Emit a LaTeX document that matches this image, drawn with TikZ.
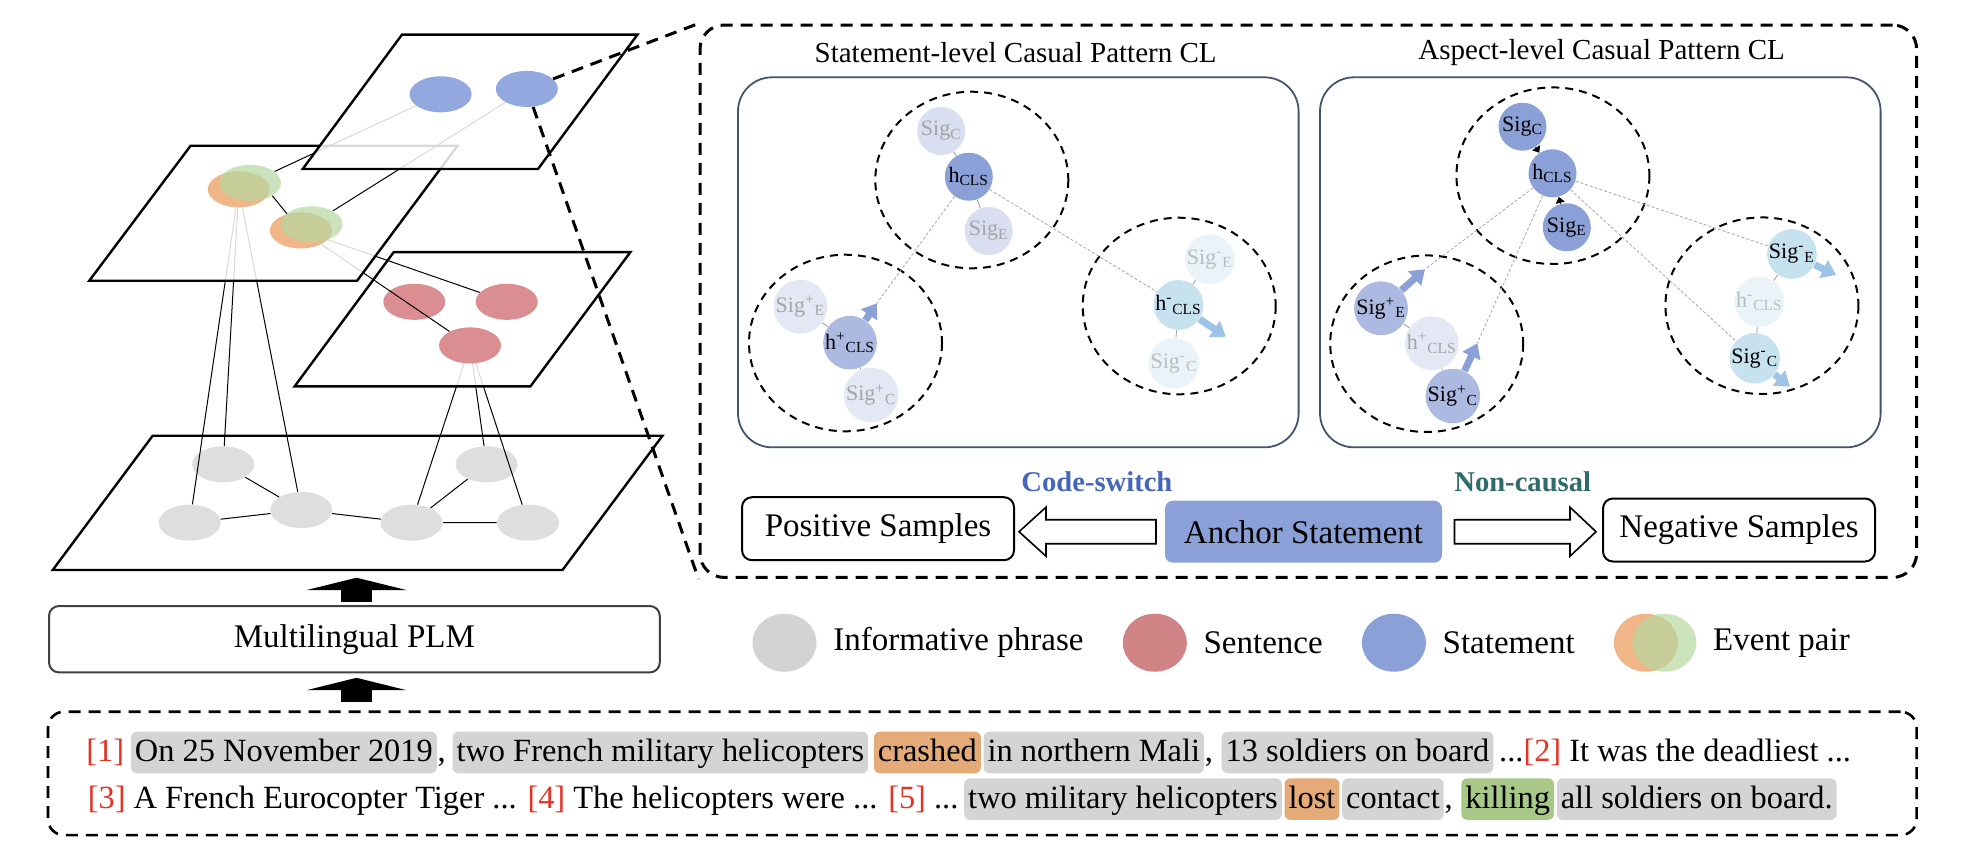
\documentclass[tikz,border=0pt]{standalone}
\usepackage{fontspec}
\setmainfont{Liberation Serif}
\usetikzlibrary{positioning,calc,arrows.meta,shapes.geometric}
\tikzset{>=stealth}

\definecolor{stblue}{RGB}{138,160,214}
\definecolor{mdblue}{RGB}{172,186,226}
\definecolor{ltblue}{RGB}{217,223,241}
\definecolor{xlblue}{RGB}{228,232,245}
\definecolor{cyblue}{RGB}{198,226,238}
\definecolor{ltcyan}{RGB}{233,243,248}
\definecolor{ngblue}{RGB}{157,195,230}
\definecolor{fadetxt}{RGB}{165,165,165}
\definecolor{fadetxt2}{RGB}{185,190,195}
\definecolor{slate}{RGB}{68,84,106}
\definecolor{phgray}{RGB}{222,222,222}
\definecolor{sred}{RGB}{219,142,146}
\definecolor{gblue}{RGB}{146,168,222}
\definecolor{evorange}{RGB}{240,182,135}
\definecolor{evgreen}{RGB}{182,216,160}
\definecolor{hlgray}{RGB}{212,212,212}
\definecolor{hlorange}{RGB}{228,170,120}
\definecolor{hlgreen}{RGB}{168,200,135}
\definecolor{numred}{RGB}{226,51,36}
\definecolor{csblue}{RGB}{68,102,187}
\definecolor{ncteal}{RGB}{47,107,107}
\definecolor{lgray}{RGB}{211,211,211}
\definecolor{lred}{RGB}{208,132,134}

\newcommand{\bodyfs}{\fontsize{16.5pt}{19pt}\selectfont}
\newcommand{\docfs}{\fontsize{16.2pt}{19pt}\selectfont}
\newcommand{\ttlfs}{\fontsize{14.5pt}{17pt}\selectfont}
\newcommand{\sigfs}{\fontsize{11pt}{13pt}\selectfont}

\tikzset{
  plane/.style={draw, line width=1.2pt, fill=white, fill opacity=0.85, line join=miter},
  ell/.style={ellipse, minimum width=31pt, minimum height=18pt, inner sep=0pt},
  edge/.style={line width=0.5pt},
  bigdash/.style={line width=1.5pt, dash pattern=on 6pt off 4pt},
  zoombox/.style={draw, bigdash, rounded corners=12pt, minimum width=608.3pt, minimum height=276.2pt},
  panel/.style={draw=slate, line width=0.9pt, rounded corners=17pt, minimum width=280.3pt, minimum height=185pt},
  grp/.style={line width=1pt, dash pattern=on 4pt off 3pt},
  sig/.style={circle, minimum size=24pt, inner sep=0pt, font=\sigfs},
  link/.style={draw=gray!80, line width=0.4pt},
  dotl/.style={draw=gray!70, line width=0.4pt, dash pattern=on 1.5pt off 1pt},
  posarr/.style={line width=3.5pt, draw=stblue, -{Triangle[width=9.5pt,length=7pt]}},
  negarr/.style={line width=3.5pt, draw=ngblue, -{Triangle[width=9.5pt,length=7pt]}},
  tinyarr/.style={line width=0.6pt, -{Triangle[width=4.5pt,length=3pt]}},
  samp/.style={draw, line width=1pt, rounded corners=5pt, minimum width=136pt, minimum height=31.5pt, font=\bodyfs},
  hollow/.style={draw, fill=white, line width=0.8pt, line join=miter},
  fat/.style={line width=15.5pt, -{Triangle[width=50pt,length=6.2pt]}},
  lgd/.style={ellipse, minimum width=32pt, minimum height=29pt, inner sep=0pt},
  lgt/.style={inner sep=0pt, font=\bodyfs},
  tx/.style={anchor=base west, inner sep=0pt, font=\docfs},
  hl/.style={anchor=base west, fill=hlgray, rounded corners=3pt, inner xsep=2pt, inner ysep=0pt,
    text height=15pt, text depth=5.8pt, font=\docfs},
}

\begin{document}
\begin{tikzpicture}[x=0.5pt,y=-0.5pt]
\useasboundingbox (0,0) rectangle (1962,864);

% layered graph
\coordinate (cp1) at (238.8,189.3);
\coordinate (cp2) at (300.9,230.4);
\coordinate (cr3) at (470,345.4);
\coordinate (cb1) at (440.6,94.3);
\coordinate (cb2) at (526.8,88.9);

\draw[plane, fill opacity=1] (152.7,435.7) -- (662.5,435.7) -- (562.5,570) -- (52.7,570) -- cycle;
\foreach \n/\x/\y in {g1/223.2/464.3, g2/486.6/464.3, g3/189.7/522.7, g4/301.3/510, g5/411.6/522.7, g6/528.1/522.7}
  \node[ell, fill=phgray] (\n) at (\x,\y) {};
\draw[edge] (g1) -- (g4) (g3) -- (g4) (g4) -- (g5) (g2) -- (g5) (g5) -- (g6);
\draw[edge] (cp1) -- (g3) (cp1) -- (g1) (cp1) -- (g4);
\draw[edge] (cr3) -- (g5) (cr3) -- (g2) (cr3) -- (g6);

\draw[plane] (393.75,252.1) -- (630.4,252.1) -- (530.4,386.4) -- (294.6,386.4) -- cycle;
\node[ell, fill=sred] (r1) at (414.3,301.8) {};
\node[ell, fill=sred] (r2) at (506.7,301.8) {};
\node[ell, fill=sred] (r3) at (cr3) {};
\draw[edge] (cp2) -- (r2) (cp2) -- (r3);

\draw[plane] (190.6,145.7) -- (457.6,145.7) -- (357.1,280.7) -- (89.3,280.7) -- cycle;
\node[ell, fill=evorange] (p1o) at (cp1) {};
\node[ell, fill=evgreen, fill opacity=0.7] (p1g) at (250,182.9) {};
\node[ell, fill=evorange] (p2o) at (cp2) {};
\node[ell, fill=evgreen, fill opacity=0.7] (p2g) at (311.6,224.3) {};
\draw[edge] (p1g.-30) -- (p2o.130);
\draw[edge] (cb1) -- (p1g) (cb2) -- (p2g);

\draw[plane] (402,34.6) -- (637.5,34.6) -- (538,169) -- (302.7,169) -- cycle;
\node[ell, fill=gblue] (b1) at (cb1) {};
\node[ell, fill=gblue] (b2) at (cb2) {};

% zoomed statement view
\node[zoombox] (zbox) at (1308.3,301.2) {};
\draw[bigdash] (b2) -- (zbox.north west) (b2) -- (zbox.south west);

\node[font=\ttlfs] (stt) at (1015.6,52.7) {Statement-level Casual Pattern CL};
\node[font=\ttlfs] (ast) at (1601.6,52.7) {Aspect-level Casual Pattern CL};
\node[panel] (stp) at (1018.3,262.3) {};
\node[panel] (asp) at (1600.3,262.3) {};

% statement-level
\draw[grp] (971.8,180) ellipse [x radius=96.5, y radius=88.3];
\draw[grp] (845.5,343) ellipse [x radius=96.5, y radius=88.3];
\draw[grp] (1179.2,306) ellipse [x radius=96.5, y radius=88.3];
\node[sig, fill=ltblue, text=fadetxt] (ssc) at (941.2,131) {Sig\textsubscript{C}};
\node[sig, fill=stblue] (shc) at (968.8,176.7) {h\textsubscript{CLS}};
\node[sig, fill=ltblue, text=fadetxt] (sse) at (988.7,231) {Sig\textsubscript{E}};
\node[sig, fill=xlblue, text=fadetxt] (spe) at (800.4,306.7) {Sig\textsuperscript{+}\textsubscript{E}};
\node[sig, fill=mdblue] (sph) at (850,342.7) {h\textsuperscript{+}\textsubscript{CLS}};
\node[sig, fill=xlblue, text=fadetxt] (spc) at (871.2,395) {Sig\textsuperscript{+}\textsubscript{C}};
\node[sig, fill=ltcyan, text=fadetxt2] (sne) at (1209.9,259.3) {Sig\textsuperscript{-}\textsubscript{E}};
\node[sig, fill=cyblue] (snh) at (1178.5,305) {h\textsuperscript{-}\textsubscript{CLS}};
\node[sig, fill=ltcyan, text=fadetxt2] (snc) at (1173.9,363.3) {Sig\textsuperscript{-}\textsubscript{C}};
\coordinate (spt) at (876.9,303.3);
\coordinate (snt) at (1225.9,336.7);
\draw[link] (ssc) -- (shc) (shc) -- (sse) (spe) -- (sph) (sph) -- (spc) (sne) -- (snh) (snh) -- (snc);
\draw[dotl] (shc) -- (spt);
\draw[dotl] (shc) -- (snh);
\draw[posarr] (sph) -- (spt);
\draw[negarr] (snh) -- (snt);

% aspect-level
\draw[grp] (1552.9,175.7) ellipse [x radius=96.5, y radius=88.3];
\draw[grp] (1426.7,343.7) ellipse [x radius=96.5, y radius=88.3];
\draw[grp] (1761.9,305.7) ellipse [x radius=96.5, y radius=88.3];
\node[sig, fill=stblue] (asc) at (1522.5,126.7) {Sig\textsubscript{C}};
\node[sig, fill=stblue] (ahc) at (1552.5,173.3) {h\textsubscript{CLS}};
\node[sig, fill=stblue] (ase) at (1566.8,227.3) {Sig\textsubscript{E}};
\node[sig, fill=mdblue] (ape) at (1381,308.3) {Sig\textsuperscript{+}\textsubscript{E}};
\node[sig, fill=xlblue, text=fadetxt] (aph) at (1431.7,343.3) {h\textsuperscript{+}\textsubscript{CLS}};
\node[sig, fill=mdblue] (apc) at (1452.8,396) {Sig\textsuperscript{+}\textsubscript{C}};
\node[sig, fill=cyblue] (ane) at (1791.9,254) {Sig\textsuperscript{-}\textsubscript{E}};
\node[sig, fill=ltcyan, text=fadetxt2] (anh) at (1759.3,301.7) {h\textsuperscript{-}\textsubscript{CLS}};
\node[sig, fill=cyblue] (anc) at (1754.7,358.3) {Sig\textsuperscript{-}\textsubscript{C}};
\coordinate (apt1) at (1425,269.3);
\coordinate (apt2) at (1477.3,343.3);
\coordinate (ant1) at (1836.2,275);
\coordinate (ant2) at (1789.8,386.7);
\draw[link] (ape) -- (aph) (aph) -- (apc) (ane) -- (anh) (anh) -- (anc);
\draw[dotl] (ahc) -- (apt1);
\draw[dotl] (ahc) -- (apt2);
\draw[dotl] (ahc) -- (ane);
\draw[dotl] (ahc) -- (anc);
\draw[tinyarr] (asc) -- (ahc);
\draw[tinyarr] (ase) -- (ahc);
\draw[posarr] (ape) -- (apt1);
\draw[posarr] (apc) -- (apt2);
\draw[negarr] (ane) -- (ant1);
\draw[negarr] (anc) -- (ant2);

% samples
\node[samp] (pos) at (878,528.7) {Positive Samples};
\node[samp, draw=none, fill=stblue, rounded corners=4pt, minimum width=138.5pt, minimum height=31pt] (anch) at (1303.5,531.7) {Anchor Statement};
\node[samp] (neg) at (1739,530) {Negative Samples};
\node[font=\fontsize{14.3pt}{17pt}\selectfont\bfseries, text=csblue] (cs) at (1096.9,481.7) {Code-switch};
\node[font=\fontsize{14.3pt}{17pt}\selectfont\bfseries, text=ncteal] (nc) at (1522.7,481.7) {Non-causal};
\draw[hollow] ([xshift=-4pt]anch.west) ++(0,-12) -- ++(-110,0) -- ++(0,-12.5) -- ++(-27,24.5)
  -- ++(27,24.5) -- ++(0,-12.5) -- ++(110,0) -- cycle;
\draw[hollow] ([xshift=5.75pt]anch.east) ++(0,-12) -- ++(115.5,0) -- ++(0,-12.5) -- ++(26,24.5)
  -- ++(-26,24.5) -- ++(0,-12.5) -- ++(-115.5,0) -- cycle;

% legend
\node[lgd, fill=lgray] (lg1) at (784.5,642.7) {};
\node[lgt, right=8pt of lg1] (lt1) {Informative phrase};
\node[lgd, fill=lred] (lg2) at (1154.8,642.7) {};
\node[lgt, right=8pt of lg2] (lt2) {Sentence};
\node[lgd, fill=stblue] (lg3) at (1393.9,642.7) {};
\node[lgt, right=8pt of lg3] (lt3) {Statement};
\node[lgd, fill=evorange] (lg4) at (1645.9,642.7) {};
\node[lgd, fill=evgreen, fill opacity=0.7] (lg5) at (1664.4,642.7) {};
\node[lgt, right=8pt of lg5] (lt4) {Event pair};

% encoder
\node[draw=black!75, line width=1pt, rounded corners=5pt, minimum width=305.4pt, minimum height=33.2pt, font=\bodyfs] (plm) at (354.4,639.2) {Multilingual PLM};
\node[draw, bigdash, line width=1.3pt, rounded corners=8pt, minimum width=934.3pt, minimum height=61.7pt] (doc) at (982.3,773.4) {};
\coordinate (gtop) at (356.5,577.7);
\draw[fat] ([yshift=1.6pt]gtop |- plm.north) -- (gtop);
\draw[fat] ([yshift=4.2pt]gtop |- doc.north) -- ([yshift=-2.2pt]gtop |- plm.south);

% document text
\node[tx] (t1) at (86,761.7) {\textcolor{numred}{[1]}};
\node[hl] (t2) at ([xshift=3pt]t1.base east) {On 25 November 2019};
\node[tx] (t3) at (t2.base east) {,};
\node[hl] (t4) at ([xshift=3pt]t3.base east) {two French military helicopters};
\node[hl, fill=hlorange] (t5) at ([xshift=2.5pt]t4.base east) {crashed};
\node[hl] (t6) at ([xshift=1pt]t5.base east) {in northern Mali};
\node[tx] (t7) at (t6.base east) {,};
\node[hl] (t8) at ([xshift=4pt]t7.base east) {13 soldiers on board};
\node[tx] (t9) at ([xshift=2.5pt]t8.base east) {...\textcolor{numred}{[2]} It was the deadliest ...};

\node[tx] (u1) at (87.4,808.3) {\textcolor{numred}{[3]} A French Eurocopter Tiger ... \textcolor{numred}{[4]} The helicopters were ... \textcolor{numred}{[5]} ...};
\node[hl] (u2) at ([xshift=2.5pt]u1.base east) {two military helicopters};
\node[hl, fill=hlorange] (u3) at ([xshift=1pt]u2.base east) {lost};
\node[hl] (u4) at ([xshift=1pt]u3.base east) {contact};
\node[tx] (u5) at (u4.base east) {,};
\node[hl, fill=hlgreen] (u6) at ([xshift=4pt]u5.base east) {killing};
\node[hl] (u7) at ([xshift=1pt]u6.base east) {all soldiers on board.};
\end{tikzpicture}
\end{document}
